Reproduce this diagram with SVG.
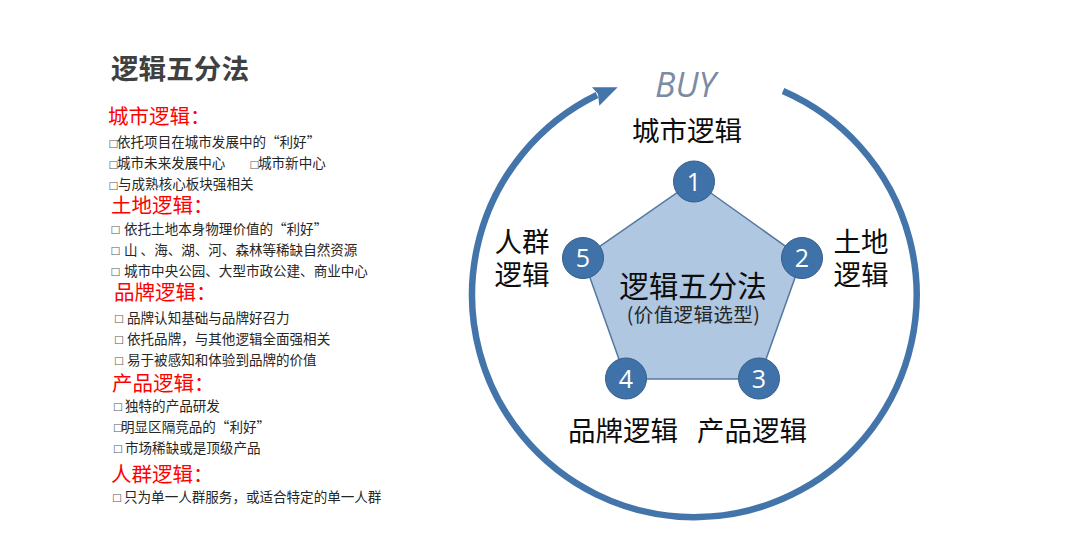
<svg xmlns="http://www.w3.org/2000/svg" width="1080" height="549" viewBox="0 0 1080 549">
<style>
text{font-family:"Noto Sans CJK SC","Noto Sans",sans-serif}
.title{font-size:27.6px;font-weight:700;fill:#404040}
.h{font-size:20.5px;fill:#ff0000}
.b{font-size:13.55px;fill:#262626}
.m{font-size:10.5px;fill:#595959;font-family:"DejaVu Sans",sans-serif}
.big{font-size:27.5px;fill:#0d0d0d}
.num{font-size:25px;fill:#fff;text-anchor:middle;font-family:"Open Sans","Noto Sans",sans-serif}
.dot{fill:#3f72a8;stroke:#365f8c;stroke-width:1}
</style>
<defs>
<marker id="ah" markerUnits="userSpaceOnUse" markerWidth="34" markerHeight="26" refX="10" refY="10" orient="0">
<path d="M30.700 2.300L5 2.300L11 9L12.300 20.700Z" fill="#4375ab"/>
</marker>
</defs>
<rect width="1080" height="549" fill="#fff"/>
<g id="connectors">
<path id="ring" d="M783 91A222.300 222.300 0 1 1 597 95" fill="none" stroke="#4375ab" stroke-width="6.500" marker-end="url(#ah)"/>
</g>
<text x="655" y="97" font-size="34" font-style="italic" fill="#7b8ba3" style="font-family:'Open Sans','Noto Sans',sans-serif">BUY</text>
<g id="pentagon">
<polygon points="694,181 802,258 759,379 626,379 583,258" fill="#afc7e0" stroke="#55789f" stroke-width="1.500"/>
<text x="693" y="297" text-anchor="middle" font-size="29.500" fill="#0d0d0d">逻辑五分法</text>
<text x="693.500" y="322" text-anchor="middle" font-size="19.500" letter-spacing="0.400" fill="#262626">(价值逻辑选型)</text>
</g>
<g id="node1"><circle class="dot" cx="694" cy="181.500" r="20.500"/><text class="num" x="694" y="190.500">1</text><text class="big" x="687" y="141" text-anchor="middle">城市逻辑</text></g>
<g id="node2"><circle class="dot" cx="802" cy="258" r="20.500"/><text class="num" x="802" y="267">2</text><text class="big" x="861" y="252" text-anchor="middle">土地</text><text class="big" x="861" y="285" text-anchor="middle">逻辑</text></g>
<g id="node3"><circle class="dot" cx="759" cy="378.500" r="20.500"/><text class="num" x="759" y="387.500">3</text><text class="big" x="752" y="441" text-anchor="middle">产品逻辑</text></g>
<g id="node4"><circle class="dot" cx="626" cy="378.500" r="20.500"/><text class="num" x="626" y="387.500">4</text><text class="big" x="623" y="441" text-anchor="middle">品牌逻辑</text></g>
<g id="node5"><circle class="dot" cx="583" cy="258" r="20.500"/><text class="num" x="583" y="267">5</text><text class="big" x="522" y="252" text-anchor="middle">人群</text><text class="big" x="522" y="285" text-anchor="middle">逻辑</text></g>
<g id="notes">
<text class="title" x="111" y="78.500">逻辑五分法</text>
<text class="h" x="108" y="123.500">城市逻辑：</text>
<text class="m" x="108.500" y="147">□</text><text class="b" x="117" y="147">依托项目在城市发展中的“利好”</text>
<text class="m" x="108.500" y="168">□</text><text class="b" x="117" y="168">城市未来发展中心</text>
<text class="m" x="249.500" y="168">□</text><text class="b" x="258" y="168">城市新中心</text>
<text class="m" x="108.500" y="189">□</text><text class="b" x="118" y="189">与成熟核心板块强相关</text>
<text class="h" x="111" y="212.500">土地逻辑：</text>
<text class="m" x="110.500" y="233">□</text><text class="b" x="124" y="233.500">依托土地本身物理价值的“利好”</text>
<text class="m" x="110.500" y="254">□</text><text class="b" x="124" y="254.500">山 、海、湖、河、森林等稀缺自然资源</text>
<text class="m" x="110.500" y="275">□</text><text class="b" x="124" y="275.500">城市中央公园、大型市政公建、商业中心</text>
<text class="h" x="114" y="299.500">品牌逻辑：</text>
<text class="m" x="114" y="322">□</text><text class="b" x="127" y="322.500">品牌认知基础与品牌好召力</text>
<text class="m" x="114" y="343">□</text><text class="b" x="127" y="343.500">依托品牌，与其他逻辑全面强相关</text>
<text class="m" x="114" y="364">□</text><text class="b" x="127" y="364.500">易于被感知和体验到品牌的价值</text>
<text class="h" x="112" y="390.500">产品逻辑：</text>
<text class="m" x="113" y="410">□</text><text class="b" x="125" y="410.500">独特的产品研发</text>
<text class="m" x="113" y="431">□</text><text class="b" x="121" y="431.500">明显区隔竞品的“利好”</text>
<text class="m" x="113" y="452">□</text><text class="b" x="125" y="452.500">市场稀缺或是顶级产品</text>
<text class="h" x="111" y="481.500">人群逻辑：</text>
<text class="m" x="112" y="501">□</text><text class="b" x="124" y="501.500">只为单一人群服务，或适合特定的单一人群</text>
</g>
</svg>
